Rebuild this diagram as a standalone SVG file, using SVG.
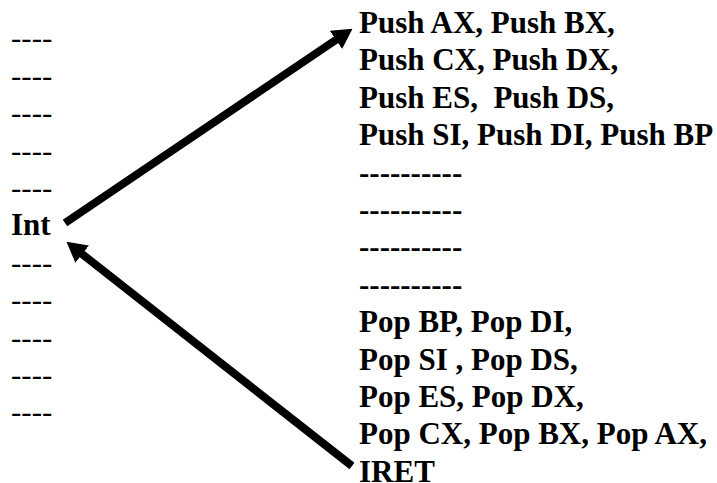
<svg xmlns="http://www.w3.org/2000/svg" width="717" height="483" viewBox="0 0 717 483">
<style>
  text { font-family: "Liberation Serif", "Times New Roman", serif; font-size: 31px; fill: #000; }
  .b { font-weight: bold; }
  .conn { stroke: #000; stroke-width: 8; fill: none; marker-end: url(#ah); }
</style>
<defs>
  <marker id="ah" markerUnits="userSpaceOnUse" viewBox="0 0 20 22" refX="2" refY="11" markerWidth="20" markerHeight="22" orient="auto">
    <path d="M0,0 L20,11 L0,22 z" fill="#000"/>
  </marker>
</defs>
<rect width="717" height="483" fill="#fff"/>
<g id="left-column">
  <text x="11" y="48">----</text>
  <text x="11" y="86">----</text>
  <text x="11" y="123">----</text>
  <text x="11" y="161">----</text>
  <text x="11" y="198">----</text>
  <text x="11" y="273">----</text>
  <text x="11" y="310">----</text>
  <text x="11" y="348">----</text>
  <text x="11" y="385">----</text>
  <text x="11" y="422">----</text>
</g>
<g id="int">
  <text class="b" x="11" y="235">Int</text>
</g>
<g id="isr">
  <text class="b" x="359" y="33">Push AX, Push BX,</text>
  <text class="b" x="359" y="70.4">Push CX, Push DX,</text>
  <text class="b" x="359" y="107.8" xml:space="preserve">Push ES,  Push DS,</text>
  <text class="b" x="359" y="145.2">Push SI, Push DI, Push BP</text>
  <text class="b" x="359" y="182.6">----------</text>
  <text class="b" x="359" y="220">----------</text>
  <text class="b" x="359" y="257.4">----------</text>
  <text class="b" x="359" y="294.8">----------</text>
  <text class="b" x="359" y="332.2">Pop BP, Pop DI,</text>
  <text class="b" x="359" y="369.6">Pop SI , Pop DS,</text>
  <text class="b" x="359" y="407">Pop ES, Pop DX,</text>
  <text class="b" x="359" y="444.4">Pop CX, Pop BX, Pop AX,</text>
  <text class="b" x="359" y="481.5">IRET</text>
</g>
<g id="connectors">
  <line class="conn" x1="65" y1="223" x2="337.6" y2="38.8"/>
  <line class="conn" x1="352" y1="466" x2="80.6" y2="252.9"/>
</g>
</svg>
